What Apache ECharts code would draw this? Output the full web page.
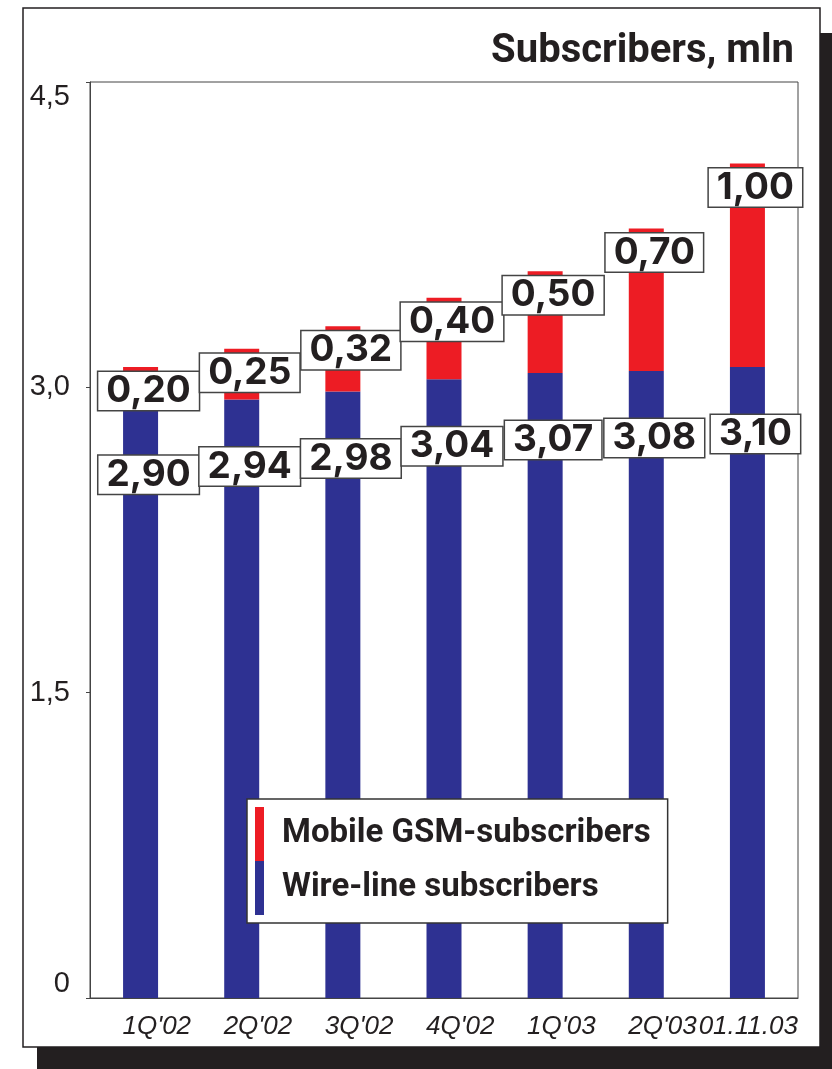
<!DOCTYPE html>
<html>
<head>
<meta charset="utf-8">
<title>Subscribers, mln</title>
<script src="https://cdn.jsdelivr.net/npm/echarts/dist/echarts.min.js"></script>
<style>
  html, body { margin: 0; padding: 0; background: #fff; }
  #main { width: 832px; height: 1069px; }
</style>
</head>
<body>
<div id="main"></div>
<script>
const periods = ["1Q'02", "2Q'02", "3Q'02", "4Q'02", "1Q'03", "2Q'03", "01.11.03"];
const wireLine = [2.90, 2.94, 2.98, 3.04, 3.07, 3.08, 3.10];
const mobileGsm = [0.20, 0.25, 0.32, 0.40, 0.50, 0.70, 1.00];
const yTicks = [0, 1.5, 3.0, 4.5];
const yTickLabels = ['0', '1,5', '3,0', '4,5'];

const ink = '#231f20';
const blue = '#2e3192';
const red = '#ed1c24';

const chart = echarts.init(document.getElementById('main'));

// white boxed value label used on both stacks
const boxLabel = (dist) => ({
  show: true,
  position: 'insideTop',
  distance: dist,
  offset: [8, 0],
  formatter: p => p.value.toFixed(2).replace('.', ','),
  fontFamily: 'Inter',
  fontWeight: 'bold',
  fontSize: 37,
  lineHeight: 36,
  color: ink,
  backgroundColor: '#fff',
  borderColor: '#444',
  borderWidth: 1.5,
  padding: [1, 8, 1, 8]
});

const option = {
  animation: false,
  graphic: {
    elements: [
      // drop shadow of the frame
      { type: 'rect', z: -20, shape: { x: 37, y: 33, width: 810, height: 1036 }, style: { fill: ink } },
      { type: 'rect', z: -10, shape: { x: 23, y: 8, width: 797, height: 1039 },
        style: { fill: '#fff', stroke: ink, lineWidth: 1.5 } }
    ]
  },
  title: {
    text: 'Subscribers, mln',
    right: 33,
    top: 27,
    textStyle: {
      fontFamily: 'Roboto',
      fontWeight: 'bold',
      fontSize: 40,
      color: ink
    }
  },
  legend: {
    orient: 'vertical',
    left: 247,
    top: 799,
    data: ['Mobile GSM-subscribers', 'Wire-line subscribers'],
    icon: 'rect',
    itemWidth: 9,
    itemHeight: 54,
    itemGap: 0,
    padding: [8, 17, 8, 8],
    backgroundColor: '#fff',
    borderColor: '#333',
    borderWidth: 1.5,
    textStyle: {
      fontFamily: 'Roboto',
      fontWeight: 'bold',
      fontSize: 33,
      color: ink,
      padding: [0, 0, 0, 13]
    }
  },
  grid: {
    left: 90,
    right: 34,
    top: 82,
    bottom: 71,
    show: true,
    borderColor: '#444',
    borderWidth: 1
  },
  xAxis: {
    type: 'category',
    data: periods,
    axisLine: { lineStyle: { color: '#444', width: 1 } },
    axisTick: { length: 7, lineStyle: { color: '#444' } },
    axisLabel: {
      interval: 0,
      hideOverlap: false,
      margin: 16,
      formatter: v => '{t|' + v + '}',
      rich: {
        t: {
          width: 101,
          align: 'right',
          fontFamily: 'Liberation Sans',
          fontStyle: 'italic',
          fontSize: 26,
          color: ink
        }
      }
    }
  },
  yAxis: {
    type: 'value',
    min: 0,
    max: 4.5,
    interval: 1.5,
    splitLine: { show: false },
    axisLine: { show: true, lineStyle: { color: '#444', width: 1 } },
    axisTick: { show: true, length: 4, lineStyle: { color: '#444' } },
    axisLabel: {
      margin: 20,
      fontFamily: 'Liberation Sans',
      fontSize: 29,
      color: ink,
      verticalAlignMinLabel: 'bottom',
      verticalAlignMaxLabel: 'top',
      formatter: v => yTickLabels[yTicks.indexOf(v)]
    }
  },
  series: [
    {
      name: 'Wire-line subscribers',
      type: 'bar',
      stack: 'total',
      barWidth: 35,
      data: wireLine,
      itemStyle: { color: blue },
      label: boxLabel(48)
    },
    {
      name: 'Mobile GSM-subscribers',
      type: 'bar',
      stack: 'total',
      barWidth: 35,
      data: mobileGsm,
      itemStyle: { color: red },
      label: boxLabel(5)
    }
  ]
};

chart.setOption(option);
</script>
</body>
</html>
